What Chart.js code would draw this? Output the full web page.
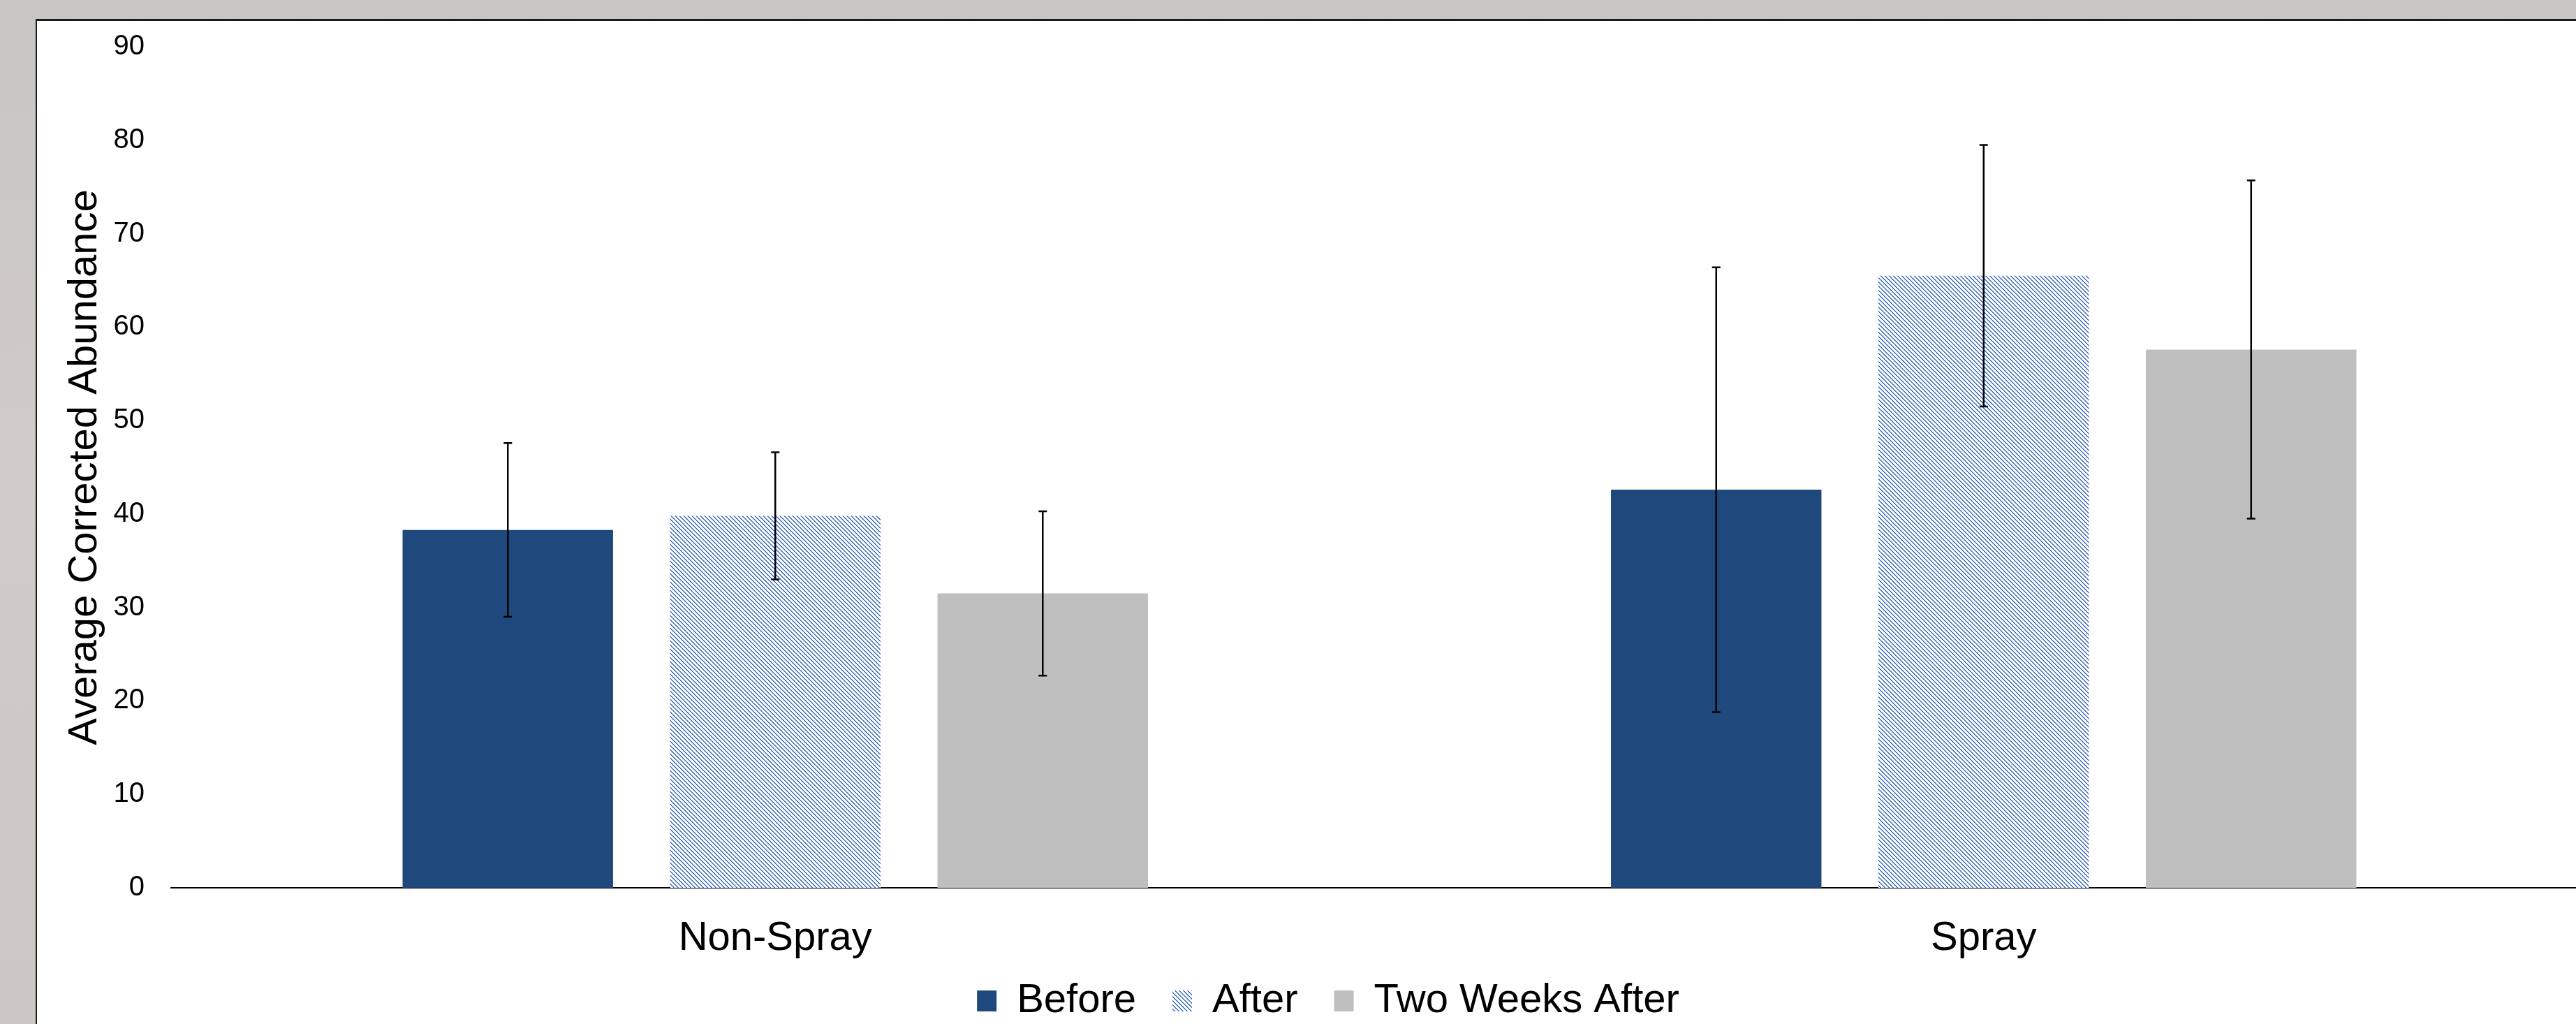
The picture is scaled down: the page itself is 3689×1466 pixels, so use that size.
<!DOCTYPE html>
<html>
<head>
<meta charset="utf-8">
<script src="https://cdn.jsdelivr.net/npm/chart.js@4.4.0/dist/chart.umd.min.js"></script>
<style>
    html, body { margin: 0; padding: 0; overflow: hidden; width: 3689px; height: 1466px; }
    body { position: relative; background: linear-gradient(180deg, #c7c6c2 0%, #d0ccc8 45%, #cbc7c3 100%); }
    #panel { position: absolute; left: 51px; top: 27px; width: 3700px; height: 1500px; background: #fff;
             border-left: 2px solid #1c1c1c; border-top: 3px solid #1c1c1c; }
    #chart { position: absolute; left: 0; top: 0; }
</style>
</head>
<body>
<div id="panel"></div>
<canvas id="chart" width="3720" height="1472"></canvas>
<script>
// Данные графика
const categories = ['Non-Spray', 'Spray'];
const seriesNames = ['Before', 'After', 'Two Weeks After'];
const beforeValues = [38.3, 42.6];
const afterValues = [39.8, 65.5];
const twoWeeksValues = [31.5, 57.6];
const beforeErrors = [9.3, 23.8];
const afterErrors = [6.8, 14.0];
const twoWeeksErrors = [8.8, 18.1];
const yMin = 0;
const yMax = 90;
const yStep = 10;

const FONT = 'Liberation Sans, Arial, sans-serif';

// Штриховка для серии "After"
function makeHatch() {
    const c = document.createElement('canvas');
    c.width = 6;
    c.height = 6;
    const g = c.getContext('2d');
    g.fillStyle = '#ffffff';
    g.fillRect(0, 0, 6, 6);
    g.fillStyle = '#4472c4';
    for (let i = 0; i < 6; i++) {
        g.fillRect(i, i, 1, 1);
        g.fillRect((i + 1) % 6, i, 1, 1);
    }
    return g.createPattern(c, 'repeat');
}

// Планки погрешностей
const errorBarPlugin = {
    id: 'errorBars',
    afterDatasetsDraw(chart) {
        const ctx = chart.ctx;
        const yScale = chart.scales.y;
        ctx.save();
        ctx.strokeStyle = '#000000';
        ctx.lineWidth = 2.5;
        chart.data.datasets.forEach((ds, i) => {
            const meta = chart.getDatasetMeta(i);
            meta.data.forEach((bar, j) => {
                const v = ds.data[j];
                const e = ds.errors[j];
                const yTop = yScale.getPixelForValue(v + e);
                const yBot = yScale.getPixelForValue(v - e);
                const x = bar.x;
                ctx.beginPath();
                ctx.moveTo(x, yTop);
                ctx.lineTo(x, yBot);
                ctx.moveTo(x - 6, yTop);
                ctx.lineTo(x + 6, yTop);
                ctx.moveTo(x - 6, yBot);
                ctx.lineTo(x + 6, yBot);
                ctx.stroke();
            });
        });
        ctx.restore();
    }
};

const ctx = document.getElementById('chart').getContext('2d');
new Chart(ctx, {
    type: 'bar',
    data: {
        labels: categories,
        datasets: [
            { label: seriesNames[0], data: beforeValues, errors: beforeErrors, backgroundColor: '#1f497d' },
            { label: seriesNames[1], data: afterValues, errors: afterErrors, backgroundColor: makeHatch() },
            { label: seriesNames[2], data: twoWeeksValues, errors: twoWeeksErrors, backgroundColor: '#bfbfbf' }
        ]
    },
    options: {
        responsive: false,
        animation: false,
        devicePixelRatio: 1,
        categoryPercentage: 0.664,
        barPercentage: 0.787,
        layout: { padding: { left: 98, top: 67, right: 14, bottom: 0 } },
        plugins: {
            tooltip: { enabled: false },
            legend: {
                position: 'bottom',
                labels: {
                    boxWidth: 28,
                    boxHeight: 30,
                    padding: 52,
                    color: '#000000',
                    font: { family: FONT, size: 58 }
                }
            }
        },
        scales: {
            x: {
                grid: { display: false, drawTicks: false },
                border: { display: true, color: '#000000', width: 2 },
                ticks: { color: '#000000', padding: 38, font: { family: FONT, size: 58 } },
                afterFit(scale) {
                    scale.height = 81;
                    // подписи не обрезаем по высоте оси
                    scale._computeLabelArea = function () { return undefined; };
                }
            },
            y: {
                min: yMin,
                max: yMax,
                grid: { display: false, drawTicks: false },
                border: { display: false },
                ticks: { stepSize: yStep, color: '#000000', padding: 38, font: { family: FONT, size: 40 } },
                title: {
                    display: true,
                    text: 'Average Corrected Abundance',
                    color: '#000000',
                    padding: { top: -11, bottom: 0 },
                    font: { family: FONT, size: 58 }
                },
                afterFit(scale) { scale.width = 147; }
            }
        }
    },
    plugins: [errorBarPlugin]
});
</script>
</body>
</html>
